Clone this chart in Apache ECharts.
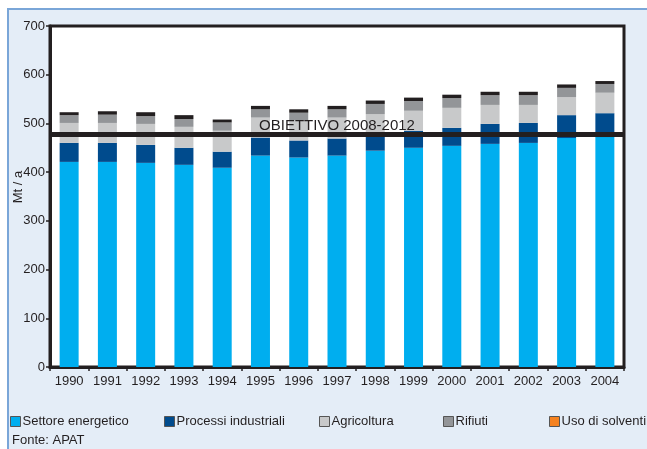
<!DOCTYPE html>
<html lang="it">
<head>
<meta charset="UTF-8">
<script src="https://cdn.jsdelivr.net/npm/echarts@6/dist/echarts.min.js"></script>
<style>
  html, body { margin: 0; padding: 0; background: #fff; }
  #main { width: 647px; height: 449px; }
</style>
</head>
<body>
<div id="main"></div>
<script type="text/javascript">
var years = ['1990', '1991', '1992', '1993', '1994', '1995', '1996', '1997', '1998', '1999', '2000', '2001', '2002', '2003', '2004'];
// Mt / a, segment sizes
var energetico  = [421, 421, 419, 415, 409, 434, 430, 434, 444, 450, 454, 458, 460, 470, 472];
var industriali = [39, 39, 37, 35, 33, 37, 35, 35, 32, 35, 37, 41, 41, 47, 49];
var agricoltura = [41, 41, 43, 43, 43, 41, 42, 43, 43, 41, 41, 39, 37, 37, 42];
var rifiuti     = [16, 17, 16, 16, 17, 17, 15, 17, 21, 20, 20, 20, 20, 19, 18];
var solventi    = [6, 7, 8, 8, 6, 7, 7, 7, 7, 7, 7, 7, 7, 7, 6];
var obiettivo = 478;
var yTicks = [0, 100, 200, 300, 400, 500, 600, 700];

var font = '"Liberation Sans", Arial, sans-serif';
var ink = '#231f20';

var myChart = echarts.init(document.getElementById('main'));

function bar(name, data, color) {
    return {
        name: name,
        type: 'bar',
        stack: 'tot',
        barWidth: 19,
        data: data,
        itemStyle: { color: color },
        animation: false
    };
}

function legendAt(left, name, color) {
    return {
        left: left,
        top: 415,
        padding: 0,
        icon: 'rect',
        itemWidth: 10,
        itemHeight: 10,
        itemGap: 0,
        data: [{ name: name, icon: 'rect', itemStyle: { color: color, borderColor: '#555', borderWidth: 1 } }],
        textStyle: { fontFamily: font, fontSize: 13, color: ink, padding: [0, 0, 0, -3] },
        selectedMode: false
    };
}

var solv = bar('Uso di solventi', solventi, ink);
solv.markLine = {
    silent: true,
    symbol: 'none',
    data: [{ yAxis: obiettivo }],
    lineStyle: { color: ink, width: 5, type: 'solid' },
    label: {
        show: true,
        position: 'middle',
        distance: 1,
        formatter: 'OBIETTIVO 2008-2012',
        fontFamily: font,
        fontSize: 15,
        color: ink
    }
};

var option = {
    backgroundColor: '#fff',
    animation: false,
    graphic: [
        { type: 'rect', z: -10, shape: { x: 8, y: 9, width: 660, height: 460 },
          style: { fill: '#e4edf7', stroke: '#7aa6d8', lineWidth: 2 } },
        { type: 'text', left: 12, top: 434,
          style: { text: 'Fonte: APAT', fontFamily: font, fontSize: 13, fill: ink } },
        { type: 'text', x: 18, y: 187, rotation: Math.PI / 2,
          style: { text: 'Mt / a', fontFamily: font, fontSize: 13, fill: ink,
                   align: 'center', verticalAlign: 'middle' } }
    ],
    legend: [
        legendAt(10, 'Settore energetico', '#00aeef'),
        legendAt(164, 'Processi industriali', '#004b8d'),
        legendAt(319, 'Agricoltura', '#c8c9ca'),
        legendAt(443, 'Rifiuti', '#939598'),
        legendAt(549, 'Uso di solventi', '#f58220')
    ],
    grid: {
        left: 50, right: 23, top: 26, bottom: 82,
        show: true, backgroundColor: '#fff', borderColor: ink, borderWidth: 3
    },
    xAxis: {
        type: 'category',
        data: years,
        axisLine: { lineStyle: { color: ink, width: 3 } },
        axisTick: { show: true, length: 4, lineStyle: { color: ink, width: 1.5 } },
        axisLabel: { interval: 0, fontFamily: font, fontSize: 13, color: ink, margin: 8 }
    },
    yAxis: {
        type: 'value',
        min: yTicks[0],
        max: yTicks[yTicks.length - 1],
        interval: 100,
        axisLine: { show: true, lineStyle: { color: ink, width: 3 } },
        axisTick: { show: true, length: 4, lineStyle: { color: ink, width: 1.5 } },
        splitLine: { show: false },
        axisLabel: { fontFamily: font, fontSize: 13, color: ink, margin: 5 }
    },
    series: [
        bar('Settore energetico', energetico, '#00aeef'),
        bar('Processi industriali', industriali, '#004b8d'),
        bar('Agricoltura', agricoltura, '#c8c9ca'),
        bar('Rifiuti', rifiuti, '#939598'),
        solv
    ]
};
myChart.setOption(option);
</script>
</body>
</html>
